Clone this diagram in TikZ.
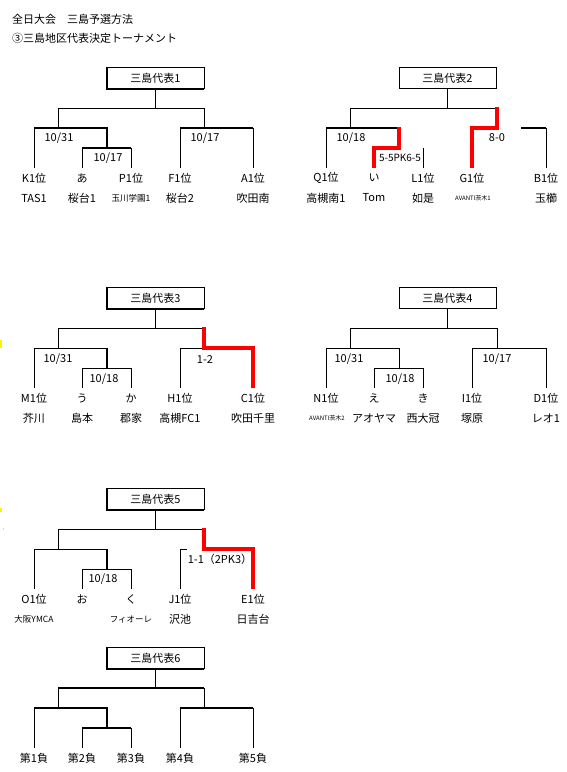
\documentclass[tikz,border=0pt]{standalone}
\usepackage{fontspec}
\setmainfont{Noto Sans CJK JP}
\begin{document}
\begin{tikzpicture}[x=1pt,y=-1pt,
  box/.style={draw,line width=0.8pt,minimum width=97pt,minimum height=21pt,inner sep=0pt,font=\fontsize{11}{13}\selectfont},
  lbl/.style={minimum height=20pt,inner sep=0pt,font=\fontsize{11}{13}\selectfont},
  sml/.style={lbl,font=\fontsize{8.5}{10}\selectfont},
  tny/.style={lbl,font=\fontsize{6}{7}\selectfont},
  ln/.style={line width=0.8pt},
  tk/.style={line width=2.2pt},
  win/.style={red,line width=3.2pt}]
\useasboundingbox (0,0) rectangle (566,772);
% Title
\node[lbl,anchor=west] (ttl) at (12,19) {全日大会　三島予選方法};
\node[lbl,anchor=west] (sub) at (12,38) {③三島地区代表決定トーナメント};
\fill[yellow] (0,340) rectangle (2,348);
\fill[yellow] (0,508) rectangle (1.5,512);
\fill[yellow] (3,528) rectangle (4,530);
% 三島代表1
\node[box] (r1) at (155.5,78) {三島代表1};
\draw[tk] (r1.north west) -- (r1.south west) -- (r1.south east);
\node[lbl] (k1) at (34,178) {K1位};
\node[lbl] (aa) at (82,178) {あ};
\node[lbl] (p1) at (131,178) {P1位};
\node[lbl] (f1) at (180,178) {F1位};
\node[lbl] (a1) at (253,178) {A1位};
\node[lbl] (k1t) at (34,198) {TAS1};
\node[lbl] (aat) at (82,198) {桜台1};
\node[sml] (p1t) at (131,198) {玉川学園1};
\node[lbl] (f1t) at (180,198) {桜台2};
\node[lbl] (a1t) at (253,198) {吹田南};
\draw[ln] (r1.south) -- (155.5,108);
\draw[ln] (58,128) |- (204,108) -- (204,128);
\draw[ln] (k1.north) -- (34,128);
\draw[tk] (34,128) -- (107,128) -- (107,148);
\draw[tk] (82,148) -- (131,148);
\draw[ln] (aa.north) -- (82,148);
\draw[ln] (p1.north) -- (131,148);
\draw[tk] (180,128) -- (253,128);
\draw[ln] (f1.north) -- (180,128);
\draw[ln] (a1.north) -- (253,128);
\node[lbl] (d1a) at (59,138) {10/31};
\node[lbl] (d1b) at (108,158) {10/17};
\node[lbl] (d1c) at (205,138) {10/17};
% 三島代表2
\begin{scope}[shift={(292,0)}]
\node[box] (r2) at (155.5,78) {三島代表2};
\node[lbl] (q1) at (34,178) {Q1位};
\node[lbl] (ii) at (82,178) {い};
\node[lbl] (l1) at (131,178) {L1位};
\node[lbl] (g1) at (180,178) {G1位};
\node[lbl] (b1) at (254,178) {B1位};
\node[lbl] (q1t) at (34,198) {高槻南1};
\node[lbl] (iit) at (82,198) {Tom};
\node[lbl] (l1t) at (131,198) {如是};
\node[tny] (g1t) at (181,198) {AVANTI茨木1};
\node[lbl] (b1t) at (254,198) {玉櫛};
\draw[ln] (r2.south) -- (155.5,108);
\draw[ln] (58,128) |- (205,108);
\draw[ln] (q1.north) -- (34,128);
\draw[tk] (34,128) -- (107,128);
\draw[win] (107,127) -- (107,148) -| (ii.north);
\draw[ln] (l1.north) -- (131,148);
\draw[win] (205,107) -- (205,128) -| (g1.north);
\draw[tk] (229,128) -- (254,128);
\draw[ln] (b1.north) -- (254,128);
\node[lbl] (d2a) at (59,138) {10/18};
\node[lbl,font=\fontsize{10}{12}\selectfont] (d2b) at (108,158) {5-5PK6-5};
\node[lbl] (d2c) at (205,138) {8-0};
\end{scope}
% 三島代表3
\begin{scope}[shift={(0,220)}]
\node[box] (r3) at (155.5,78) {三島代表3};
\draw[tk] (r3.north west) -- (r3.south west) -- (r3.south east);
\node[lbl] (m1) at (34,178) {M1位};
\node[lbl] (uu) at (82,178) {う};
\node[lbl] (ka) at (131,178) {か};
\node[lbl] (h1) at (180,178) {H1位};
\node[lbl] (c1) at (253,178) {C1位};
\node[lbl] (m1t) at (34,198) {芥川};
\node[lbl] (uut) at (82,198) {島本};
\node[lbl] (kat) at (131,198) {郡家};
\node[lbl] (h1t) at (180,198) {高槻FC1};
\node[lbl] (c1t) at (253,198) {吹田千里};
\draw[ln] (r3.south) -- (155.5,108);
\draw[ln] (58,128) |- (204,108);
\draw[ln] (m1.north) |- (107,128);
\draw[tk] (107,128) -- (107,148);
\draw[ln] (uu.north) |- (131,148) -- (ka.north);
\draw[ln] (h1.north) |- (204,128);
\draw[win] (204,107) -- (204,128) -| (c1.north);
\node[lbl] (d3a) at (58,139) {10/31};
\node[lbl] (d3b) at (104,159) {10/18};
\node[lbl] (d3c) at (205,139) {1-2};
\end{scope}
% 三島代表4
\begin{scope}[shift={(292,220)}]
\node[box] (r4) at (155.5,78) {三島代表4};
\node[lbl] (n1) at (34,178) {N1位};
\node[lbl] (ee) at (82,178) {え};
\node[lbl] (ki) at (131,178) {き};
\node[lbl] (i1) at (180,178) {I1位};
\node[lbl] (d1) at (254,178) {D1位};
\node[tny] (n1t) at (35,198) {AVANTI茨木2};
\node[lbl] (eet) at (82,198) {アオヤマ};
\node[lbl] (kit) at (131,198) {西大冠};
\node[lbl] (i1t) at (180,198) {塚原};
\node[lbl] (d1t) at (254,198) {レオ1};
\draw[ln] (r4.south) -- (155.5,108);
\draw[ln] (58,128) |- (205,108) -- (205,128);
\draw[ln] (n1.north) |- (107,128) -- (107,148);
\draw[ln] (ee.north) |- (131,148) -- (ki.north);
\draw[ln] (i1.north) |- (254,128) -- (d1.north);
\node[lbl] (d4a) at (57,139) {10/31};
\node[lbl] (d4b) at (108,159) {10/18};
\node[lbl] (d4c) at (205,139) {10/17};
\end{scope}
% 三島代表5
\begin{scope}[shift={(0,421)}]
\node[box] (r5) at (155.5,78) {三島代表5};
\draw[tk] (r5.north west) -- (r5.south west) -- (r5.south east);
\node[lbl] (o1) at (34,178) {O1位};
\node[lbl] (oo) at (82,178) {お};
\node[lbl] (ku) at (131,178) {く};
\node[lbl] (j1) at (180,178) {J1位};
\node[lbl] (e1) at (253,178) {E1位};
\node[sml] (o1t) at (34,198) {大阪YMCA};
\node[sml] (kut) at (131,198) {フィオーレ};
\node[lbl] (j1t) at (180,198) {沢池};
\node[lbl] (e1t) at (253,198) {日吉台};
\draw[ln] (r5.south) -- (155.5,108);
\draw[ln] (58,128) |- (204,108);
\draw[ln] (o1.north) |- (107,128);
\draw[tk] (107,128) -- (107,148);
\draw[ln] (oo.north) |- (131,148) -- (ku.north);
\draw[ln] (j1.north) |- (187,128);
\draw[win] (204,107) -- (204,128) -| (e1.north);
\node[lbl] (d5a) at (103,158) {10/18};
\node[lbl] (d5b) at (220,138) {1-1（2PK3）};
\end{scope}
% 三島代表6
\begin{scope}[shift={(0,580)}]
\node[box] (r6) at (155.5,78) {三島代表6};
\draw[tk] (r6.north west) -- (r6.south west) -- (r6.south east);
\node[lbl] (lo1) at (34,178) {第1負};
\node[lbl] (lo2) at (82,178) {第2負};
\node[lbl] (lo3) at (131,178) {第3負};
\node[lbl] (lo4) at (180,178) {第4負};
\node[lbl] (lo5) at (253,178) {第5負};
\draw[ln] (r6.south) -- (155.5,108);
\draw[ln] (58,108) -- (58,128);
\draw[ln] (204,108) -- (204,128);
\draw[tk] (58,108) -- (204,108);
\draw[ln] (lo1.north) -- (34,128);
\draw[tk] (34,128) -- (107,128) -- (107,148);
\draw[ln] (lo2.north) -- (82,148);
\draw[ln] (lo3.north) -- (131,148);
\draw[tk] (82,148) -- (131,148);
\draw[ln] (lo4.north) -- (180,128);
\draw[ln] (lo5.north) -- (253,128);
\draw[tk] (180,128) -- (253,128);
\end{scope}
\end{tikzpicture}
\end{document}
